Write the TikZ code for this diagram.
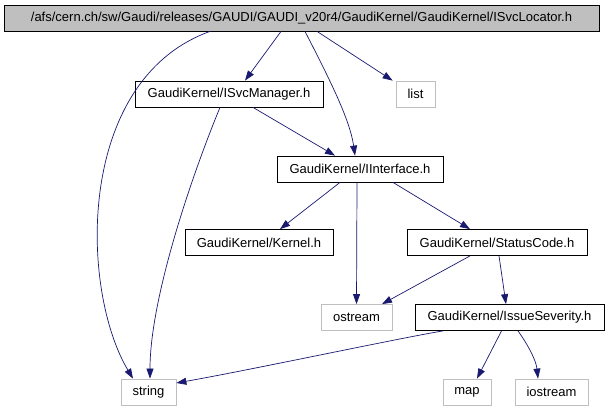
\documentclass[tikz,border=0pt]{standalone}
\usepackage{fontspec}
\setmainfont{Liberation Sans}
\usetikzlibrary{arrows.meta}

\definecolor{edgeblue}{RGB}{25,25,112}
\definecolor{boxgrey}{RGB}{191,191,191}

\begin{document}
\begin{tikzpicture}[x=1pt,y=-1pt]
    \tikzstyle{every node}=[font=\fontsize{13}{15}\selectfont, inner sep=0pt, minimum height=26pt]
    \tikzstyle{file}=[draw=black, line width=0.8pt]
    \tikzstyle{sys}=[draw=boxgrey, line width=0.8pt]
    \tikzstyle{dep}=[draw=edgeblue, line width=0.7pt, -{Triangle[length=10pt,width=7pt]}]

      \useasboundingbox (0,0) rectangle (609,410);

      % draw header files
      \node[file, fill=boxgrey, minimum width=595pt] (locator) at (301.5,18)
         {/afs/cern.ch/sw/Gaudi/releases/GAUDI/GAUDI\_v20r4/GaudiKernel/GaudiKernel/ISvcLocator.h};
      \node[file, minimum width=188pt] (svcmgr) at (229,94) {GaudiKernel/ISvcManager.h};
      \node[file, minimum width=166pt] (iface)  at (360,169) {GaudiKernel/IInterface.h};
      \node[file, minimum width=148pt] (kernel) at (259,242.5) {GaudiKernel/Kernel.h};
      \node[file, minimum width=180pt] (status) at (497,242.5) {GaudiKernel/StatusCode.h};
      \node[file, minimum width=189pt] (issue)  at (509.5,317.5) {GaudiKernel/IssueSeverity.h};

      % system headers
      \node[sys, minimum width=39pt] (list)     at (415.5,94) {list};
      \node[sys, minimum width=71pt] (ostream)  at (356.5,317.5) {ostream};
      \node[sys, minimum width=55pt] (string)   at (148.5,392) {string};
      \node[sys, minimum width=48pt] (map)      at (467,392) {map};
      \node[sys, minimum width=73pt] (iostream) at (551.5,392) {iostream};

      % draw includes
      \draw[dep] ([xshift=-91.5pt]locator.south) .. controls (75,80) and (80,290)
         .. ([xshift=-15.5pt]string.north);
      \draw[dep] ([xshift=-20.5pt]locator.south) -- ([xshift=16pt]svcmgr.north);
      \draw[dep] ([xshift=3.5pt]locator.south) .. controls (330,80) and (350,120)
         .. ([xshift=-5pt]iface.north);
      \draw[dep] ([xshift=15.5pt]locator.south) -- ([xshift=-3pt]list.north west);

      \draw[dep] ([xshift=-9pt]svcmgr.south) .. controls (190,180) and (150,300)
         .. ([xshift=1.5pt]string.north);
      \draw[dep] ([xshift=24pt]svcmgr.south) -- ([xshift=-25pt]iface.north);

      \draw[dep] ([xshift=-20pt]iface.south) -- ([xshift=21pt]kernel.north);
      \draw[dep] ([xshift=-3pt]iface.south) -- (ostream.north);
      \draw[dep] ([xshift=33pt]iface.south) -- ([xshift=-27pt]status.north);

      \draw[dep] ([xshift=-27pt]status.south) -- ([xshift=25.5pt]ostream.north);
      \draw[dep] ([xshift=2pt]status.south) -- ([xshift=-3.5pt]issue.north);

      % issue severity
      \draw[dep] ([xshift=-66.5pt]issue.south) .. controls (400,338) and (250,370)
         .. ([yshift=9pt]string.east);
      \draw[dep] ([xshift=-8pt]issue.south) -- ([xshift=10pt]map.north);
      \draw[dep] ([xshift=8.5pt]issue.south) .. controls (528,345) and (536,360)
         .. ([xshift=-13.5pt]iostream.north);

\end{tikzpicture}
\end{document}
